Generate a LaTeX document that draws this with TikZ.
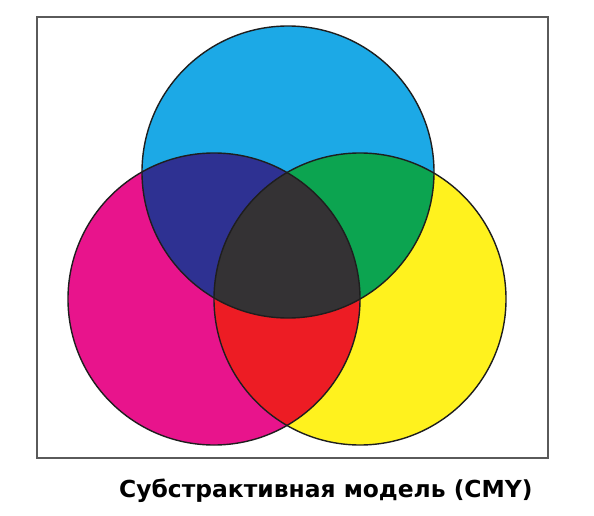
\documentclass[tikz,border=0pt]{standalone}
\usepackage{fontspec}
\setmainfont{DejaVu Sans}
\usepackage{tikz}
\usetikzlibrary{positioning}
\definecolor{cyancolor}{RGB}{28, 169, 230}
\definecolor{magentacolor}{RGB}{232, 20, 140}
\definecolor{yellowcolor}{RGB}{255, 242, 30}
\definecolor{bluecolor}{RGB}{46, 49, 146}
\definecolor{greencolor}{RGB}{12, 164, 80}
\definecolor{redcolor}{RGB}{237, 28, 36}
\definecolor{blackcolor}{RGB}{52, 50, 52}
\definecolor{framecolor}{RGB}{90, 90, 90}
\definecolor{outlinecolor}{RGB}{30, 30, 30}
\newcommand{\rad}{146pt}
\tikzset{
framebox/.style={
  draw=framecolor,
  line width=1.5pt
},
outline/.style={
  draw=outlinecolor,
  line width=1.4pt
},
titlelabel/.style={
  font=\bfseries\fontsize{23.4}{26}\selectfont,
  text=black,
  inner sep=0pt
}
}
\begin{document}
\begin{tikzpicture}[x=1pt, y=-1pt]
  \useasboundingbox (0,0) rectangle (594,516);
  \draw[framebox] (37,17) rectangle (548,458);

  % centres
  \coordinate (cyanc) at (288,172);
  \coordinate (magc) at (214,299);
  \coordinate (yelc) at (360,299);

  % base discs
  \fill[cyancolor] (cyanc) circle (\rad);
  \fill[magentacolor] (magc) circle (\rad);
  \fill[yellowcolor] (yelc) circle (\rad);

  % pairwise overlaps
  \begin{scope}
    \clip (cyanc) circle (\rad);
    \fill[bluecolor] (magc) circle (\rad);
    \fill[greencolor] (yelc) circle (\rad);
  \end{scope}
  \begin{scope}
    \clip (magc) circle (\rad);
    \fill[redcolor] (yelc) circle (\rad);
  \end{scope}

  % centre
  \begin{scope}
    \clip (cyanc) circle (\rad);
    \clip (magc) circle (\rad);
    \fill[blackcolor] (yelc) circle (\rad);
  \end{scope}

  % outlines
  \foreach \c in {cyanc, magc, yelc}
    \draw[outline] (\c) circle (\rad);

  \node[titlelabel, anchor=base west] (title) at (119,497) {Субстрактивная модель (CMY)};
\end{tikzpicture}
\end{document}
